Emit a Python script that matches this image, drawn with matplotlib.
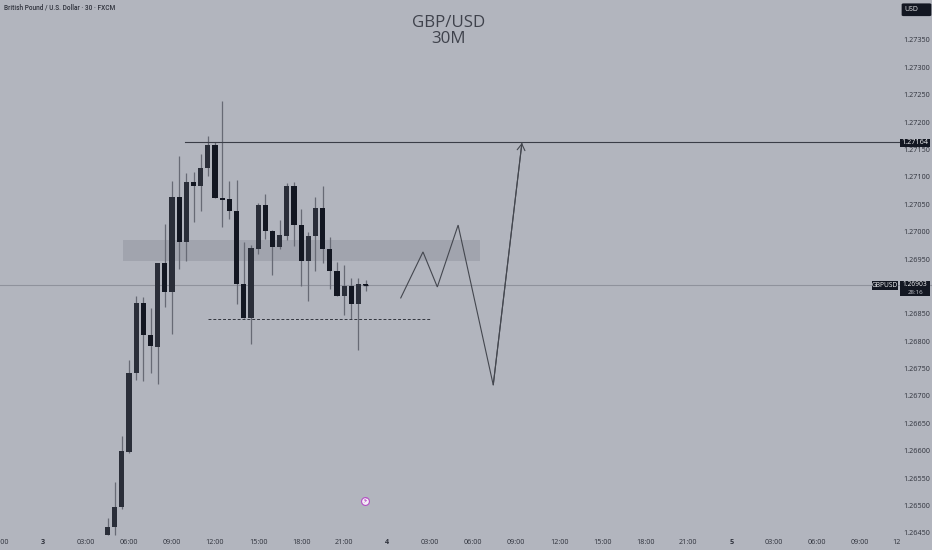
import matplotlib
matplotlib.use("Agg")
import matplotlib.pyplot as plt
from matplotlib.patches import Rectangle, FancyBboxPatch

# 30-minute bars, bar 0 = day 3 00:00
bar_index = list(range(9, 46))
opens = [1.26446, 1.26461, 1.26497, 1.26598, 1.26741, 1.26870, 1.26811, 1.26790, 1.26942, 1.26889,
         1.27063, 1.26982, 1.27091, 1.27083, 1.27116, 1.27158, 1.27062, 1.27059, 1.27038, 1.26905,
         1.26843, 1.26969, 1.27048, 1.27002, 1.26972, 1.26992, 1.27083, 1.27012, 1.26946, 1.26992,
         1.27043, 1.26969, 1.26929, 1.26882, 1.26900, 1.26868, 1.26905]
closes = [1.26461, 1.26498, 1.26600, 1.26742, 1.26870, 1.26811, 1.26791, 1.26942, 1.26890, 1.27063,
          1.26982, 1.27091, 1.27083, 1.27116, 1.27158, 1.27061, 1.27058, 1.27038, 1.26904, 1.26843,
          1.26970, 1.27048, 1.27001, 1.26972, 1.26993, 1.27083, 1.27012, 1.26946, 1.26992, 1.27043,
          1.26968, 1.26929, 1.26882, 1.26900, 1.26868, 1.26905, 1.26903]
highs = [1.26478, 1.26542, 1.26627, 1.26766, 1.26883, 1.26880, 1.26860, 1.26943, 1.27014, 1.27093,
         1.27138, 1.27107, 1.27109, 1.27142, 1.27175, 1.27164, 1.27239, 1.27092, 1.27094, 1.26981,
         1.26976, 1.27052, 1.27069, 1.27003, 1.27021, 1.27089, 1.27090, 1.27041, 1.26999, 1.27063,
         1.27083, 1.26991, 1.26945, 1.26940, 1.26915, 1.26915, 1.26912]
lows = [1.26446, 1.26446, 1.26493, 1.26596, 1.26729, 1.26728, 1.26741, 1.26721, 1.26863, 1.26814,
        1.26932, 1.26946, 1.27018, 1.27038, 1.27102, 1.27061, 1.27009, 1.27023, 1.26868, 1.26843,
        1.26795, 1.26960, 1.26987, 1.26921, 1.26968, 1.26985, 1.26974, 1.26900, 1.26873, 1.26928,
        1.26942, 1.26895, 1.26882, 1.26848, 1.26840, 1.26784, 1.26892]

projection_x = [49.9, 53.0, 55.0, 57.9, 62.8, 66.8]
projection_y = [1.26879, 1.26963, 1.26899, 1.27012, 1.26720, 1.27162]

resistance_level = 1.27164
last_price = 1.26903
support_level = 1.26841
zone_top, zone_bottom = 1.26985, 1.26946

price_ticks = [1.2645, 1.2650, 1.2655, 1.2660, 1.2665, 1.2670, 1.2675, 1.2680, 1.2685,
               1.2695, 1.2700, 1.2705, 1.2710, 1.2715, 1.2720, 1.2725, 1.2730, 1.2735]
time_ticks = [-6, 0, 6, 12, 18, 24, 30, 36, 42, 48, 54, 60, 66, 72, 78, 84, 90, 96, 102, 108, 114]
time_labels = ["21:00", "3", "03:00", "06:00", "09:00", "12:00", "15:00", "18:00", "21:00", "4",
               "03:00", "06:00", "09:00", "12:00", "15:00", "18:00", "21:00", "5", "03:00", "06:00", "09:00"]

BG = "#b2b5be"
UP = "#2a2e39"
DOWN = "#131722"
WICK = "#676a75"
TXT = "#2f323c"
FONT = "Open Sans"

W, H = 932, 550
plt.rcParams["font.family"] = FONT
fig = plt.figure(figsize=(W / 100, H / 100), dpi=100, facecolor=BG)
ax = fig.add_axes([0, 0, 1, 1], facecolor=BG)
ax.set_xlim(-6.0, 124.0)
ax.set_ylim(1.264187, 1.27423)
for s in ax.spines.values():
    s.set_visible(False)

def px(x, y):
    return x / W, 1 - y / H

# axes
ax.yaxis.tick_right()
ax.set_yticks(price_ticks)
ax.set_yticklabels([f"{v:.5f}" for v in price_ticks], fontsize=5.2, color=TXT)
ax.tick_params(axis="y", length=0, pad=-20.8, labelright=True)
ax.set_xticks(time_ticks)
ax.set_xticklabels(time_labels, fontsize=5.2, color=TXT)
ax.tick_params(axis="x", length=0, pad=-8.2)
for lab, t in zip(ax.get_xticklabels(), time_labels):
    if ":" not in t:
        lab.set_fontweight("bold")
ax.text(*px(892, 543), "12", transform=ax.transAxes, fontsize=5.2, color=TXT, ha="left", va="center")

# zone and levels
ax.add_patch(Rectangle((11.2, zone_bottom), 61.0 - 11.2, zone_top - zone_bottom,
                       facecolor="#a1a4ae", edgecolor="none", zorder=1))
ax.axhline(last_price, color="#8f929c", lw=0.8, zorder=1.5)
ax.plot([19.8, 119.5], [resistance_level] * 2, color="#3a3d47", lw=0.8, zorder=3)
ax.plot([23.0, 54.0], [support_level] * 2, color="#33363f", lw=0.7, ls=(0, (3, 2)), zorder=3)

# candles
for i, o, c, h, l in zip(bar_index, opens, closes, highs, lows):
    col = UP if c >= o else DOWN
    ax.vlines(i, l, h, color=WICK, lw=0.9, zorder=2)
    ax.bar(i, abs(c - o), bottom=min(o, c), width=0.72, color=col, linewidth=0, zorder=3)
ax.hlines(closes[-1], bar_index[-1] - 0.36, bar_index[-1] + 0.36, color=DOWN, lw=0.9, zorder=3)

# projected path
ax.plot(projection_x, projection_y, color="#44474f", lw=0.8, zorder=4, solid_joinstyle="miter")
ax.annotate("", xy=(projection_x[-1], projection_y[-1]), xytext=(projection_x[-2], projection_y[-2]),
            arrowprops=dict(arrowstyle="->,head_length=0.45,head_width=0.28", color="#44474f", lw=0.8,
                            shrinkA=0, shrinkB=0), zorder=4)

# header and title
ax.text(*px(4, 7.5), "British Pound / U.S. Dollar · 30 · FXCM", transform=ax.transAxes,
        fontsize=4.7, color=TXT, ha="left", va="center", family="Roboto", fontweight="medium")
ax.text(*px(449, 31), "GBP/USD\n30M", transform=ax.transAxes, fontsize=12.2, color="#3f424c",
        ha="center", va="center", linespacing=1.0)

# price-scale badges
def badge(x0, y0, x1, y1, text, fs=5.2, color="#f0f1f3", bg="#131722"):
    ax.add_patch(Rectangle(px(x0, y1), (x1 - x0) / W, (y1 - y0) / H, transform=ax.transAxes,
                           facecolor=bg, edgecolor="none", zorder=5))
    ax.text(*px((x0 + x1) / 2, (y0 + y1) / 2), text, transform=ax.transAxes, fontsize=fs,
            color=color, ha="center", va="center", zorder=6)

ax.add_patch(FancyBboxPatch(px(903.5, 15), 26 / W, 10.5 / H, transform=ax.transAxes,
                            boxstyle="round,pad=0.002", facecolor=DOWN, edgecolor="none", zorder=5))
ax.text(*px(911, 9.5), "USD", transform=ax.transAxes, fontsize=5.0, color="#e8e9ec",
        ha="center", va="center", zorder=6)
badge(900, 138.5, 930, 147, "1.27164")
badge(872, 281, 898, 289.5, "GBPUSD", fs=4.8)
badge(900, 281, 930, 296, "", fs=5)
ax.text(*px(915, 284.5), f"{last_price:.5f}", transform=ax.transAxes, fontsize=4.8, color="#f0f1f3",
        ha="center", va="center", zorder=6)
ax.text(*px(915, 292.3), "28:16", transform=ax.transAxes, fontsize=4.4, color="#c8cad0",
        ha="center", va="center", zorder=6)

# event marker
ax.scatter(*px(365, 501), s=32, facecolor="#f3eef6", edgecolor="#b44fc4", linewidth=0.8,
           transform=ax.transAxes, zorder=6)
ax.text(*px(365, 501), "⚡", transform=ax.transAxes, fontsize=5, color="#b030c0",
        family="DejaVu Sans", ha="center", va="center", zorder=7)

fig.savefig("out.png", dpi=100, facecolor=BG)
